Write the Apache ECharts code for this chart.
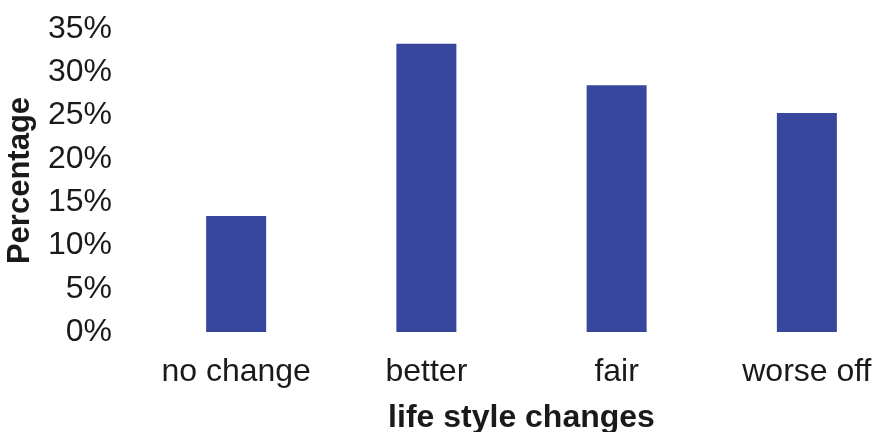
<!DOCTYPE html>
<html>
<head>
<meta charset="utf-8">
<script src="https://cdn.jsdelivr.net/npm/echarts@6/dist/echarts.min.js"></script>
<style>
  html, body { margin: 0; padding: 0; background: #fff; }
  #chart { width: 875px; height: 432px; }
</style>
</head>
<body>
<div id="chart"></div>
<script>
// categories and values
var categories = ['no change', 'better', 'fair', 'worse off']
var percentages = [13.4, 33.3, 28.5, 25.3]
var yTicks = { min: 0, max: 35, interval: 5 }

var chart = echarts.init(document.getElementById('chart'))
var font = 'Liberation Sans, Arial, sans-serif'

var option = {
  animation: false,
  textStyle: { fontFamily: font },
  grid: {
    left: 141,
    top: 29,
    right: -27,
    bottom: 100,
    outerBoundsMode: 'none',
    containLabel: false
  },
  xAxis: {
    type: 'category',
    data: categories,
    name: 'life style changes',
    nameLocation: 'middle',
    nameGap: 70,
    nameTextStyle: { fontSize: 32, fontWeight: 'bold', color: '#1a1a1a', fontFamily: font },
    axisLine: { show: false },
    axisTick: { show: false },
    axisLabel: {
      interval: 0,
      hideOverlap: false,
      fontSize: 32,
      color: '#1a1a1a',
      margin: 24,
      fontFamily: font
    }
  },
  yAxis: {
    type: 'value',
    min: yTicks.min,
    max: yTicks.max,
    interval: yTicks.interval,
    name: 'Percentage',
    nameLocation: 'middle',
    nameGap: 105,
    nameTextStyle: { fontSize: 31, fontWeight: 'bold', color: '#1a1a1a', fontFamily: font },
    axisLine: { show: false },
    axisTick: { show: false },
    splitLine: { show: false },
    axisLabel: {
      fontSize: 32,
      color: '#1a1a1a',
      margin: 29,
      fontFamily: font,
      formatter: '{value}%'
    }
  },
  series: [
    {
      type: 'bar',
      data: percentages,
      barWidth: 60,
      itemStyle: { color: '#37479d' }
    }
  ]
}

chart.setOption(option, true)
</script>
</body>
</html>
